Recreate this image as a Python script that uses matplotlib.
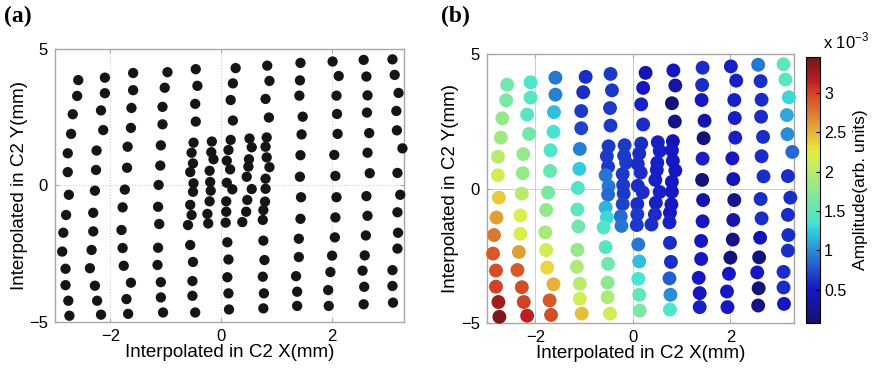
import numpy as np
import matplotlib
matplotlib.use("Agg")
import matplotlib.pyplot as plt
from matplotlib.colors import LinearSegmentedColormap

# interpolated probe positions (mm), read column by column from top to bottom
col1_x = [-2.58, -2.60, -2.68, -2.71, -2.77, -2.77, -2.75, -2.80, -2.85, -2.87, -2.81, -2.81, -2.76, -2.74]
col1_y = [3.86, 3.28, 2.61, 1.89, 1.18, 0.49, -0.34, -1.08, -1.73, -2.42, -3.05, -3.65, -4.22, -4.77]
col2_x = [-2.10, -2.10, -2.17, -2.13, -2.25, -2.26, -2.28, -2.31, -2.31, -2.34, -2.37, -2.28, -2.24, -2.17]
col2_y = [3.95, 3.38, 2.75, 2.03, 1.28, 0.57, -0.19, -1.00, -1.68, -2.36, -3.03, -3.67, -4.22, -4.73]
col3_x = [-1.59, -1.59, -1.62, -1.63, -1.69, -1.70, -1.74, -1.78, -1.80, -1.78, -1.76, -1.63, -1.71, -1.68]
col3_y = [4.12, 3.49, 2.84, 2.11, 1.42, 0.65, -0.15, -0.80, -1.63, -2.29, -2.94, -3.56, -4.16, -4.70]
col4_x = [-0.97, -1.02, -1.06, -1.06, -1.09, -1.10, -1.13, -1.14, -1.12, -1.14, -1.15, -1.09, -1.09, -1.05]
col4_y = [4.15, 3.58, 2.88, 2.24, 1.47, 0.73, 0.02, -0.78, -1.41, -2.28, -2.91, -3.54, -4.10, -4.65]
col5_x = [-0.46, -0.43, -0.47, -0.46, -0.50, -0.535, -0.51, -0.56, -0.50, -0.51, -0.56, -0.535, -0.60,
          -0.56, -0.51, -0.52, -0.52, -0.47]
col5_y = [4.26, 3.65, 2.99, 2.34, 1.57, 1.20, 0.81, 0.49, 0.08, -0.23, -0.71, -1.08, -1.45,
          -2.18, -2.80, -3.50, -4.04, -4.65]
colB_x = [-0.17, -0.18, -0.14, -0.21, -0.20, -0.19, -0.21, -0.25, -0.235]
colB_y = [1.61, 1.22, 0.96, 0.54, 0.13, -0.19, -0.58, -1.04, -1.39]
col6_x = [0.26, 0.21, 0.17, 0.21, 0.17, 0.13, 0.10, 0.16, 0.10, 0.20, 0.09, 0.09, 0.08,
          0.11, 0.13, 0.11, 0.13, 0.14]
col6_y = [4.30, 3.74, 3.13, 2.38, 1.67, 1.30, 0.91, 0.59, 0.10, -0.14, -0.58, -0.96, -1.36,
          -2.08, -2.71, -3.36, -3.95, -4.54]
colD_x = [0.51, 0.55, 0.50, 0.49, 0.46, 0.55, 0.47, 0.45, 0.38]
colD_y = [1.72, 1.40, 0.96, 0.69, 0.32, -0.13, -0.53, -0.96, -1.34]
col7_x = [0.83, 0.87, 0.80, 0.86, 0.82, 0.80, 0.82, 0.87, 0.80, 0.80, 0.79, 0.76, 0.75,
          0.76, 0.78, 0.75, 0.77, 0.76]
col7_y = [4.39, 3.83, 3.17, 2.49, 1.76, 1.42, 1.03, 0.67, 0.25, -0.12, -0.59, -0.90, -1.26,
          -2.02, -2.73, -3.34, -3.95, -4.50]
col8_x = [1.43, 1.42, 1.41, 1.47, 1.45, 1.43, 1.42, 1.44, 1.43, 1.40, 1.40, 1.35, 1.37, 1.37]
col8_y = [4.49, 3.85, 3.29, 2.52, 1.87, 1.11, 0.32, -0.43, -1.22, -1.95, -2.62, -3.32, -3.89, -4.41]
col9_x = [2.01, 2.12, 2.08, 2.09, 2.10, 2.04, 2.06, 2.08, 2.06, 2.05, 2.00, 1.97, 1.93, 1.94]
col9_y = [4.54, 4.01, 3.29, 2.62, 1.89, 1.12, 0.35, -0.43, -1.17, -1.90, -2.57, -3.17, -3.83, -4.41]
col10_x = [2.57, 2.62, 2.64, 2.63, 2.67, 2.64, 2.68, 2.62, 2.64, 2.61, 2.59, 2.55, 2.58, 2.57]
col10_y = [4.60, 3.99, 3.30, 2.67, 1.92, 1.20, 0.45, -0.39, -1.11, -1.83, -2.56, -3.12, -3.71, -4.35]
col11_x = [3.09, 3.13, 3.20, 3.16, 3.17, 3.27, 3.18, 3.23, 3.18, 3.19, 3.18, 3.09, 3.09, 3.10]
col11_y = [4.62, 4.05, 3.39, 2.73, 2.02, 1.36, 0.46, -0.34, -0.98, -1.73, -2.31, -3.10, -3.68, -4.29]

# amplitude (x 1e-3, arb. units) for the same points
col1_a = [1.6, 1.65, 1.8, 1.85, 2.0, 2.15, 2.4, 2.6, 2.75, 2.9, 2.95, 3.0, 3.25, 3.4]
col2_a = [1.4, 1.45, 1.45, 1.6, 1.8, 1.8, 2.0, 2.2, 2.2, 2.6, 2.9, 2.95, 3.0, 3.15]
col3_a = [0.9, 0.95, 1.2, 1.35, 1.4, 1.55, 1.65, 1.8, 1.9, 2.15, 2.35, 2.5, 2.9, 2.95]
col4_a = [0.6, 0.6, 0.65, 0.7, 0.95, 1.25, 1.4, 1.5, 1.6, 1.8, 1.95, 2.0, 2.15, 2.45]
col5_a = [0.65, 0.65, 0.65, 0.65, 0.65, 0.65, 0.65, 0.9, 0.9, 0.85, 1.15, 1.3, 1.4,
          1.45, 1.6, 1.75, 1.95, 2.15]
colB_a = [0.65, 0.65, 0.65, 0.65, 0.65, 0.65, 0.7, 0.85, 0.9]
col6_a = [0.4, 0.5, 0.55, 0.6, 0.6, 0.6, 0.6, 0.6, 0.6, 0.6, 0.6, 0.65, 0.65,
          0.9, 1.2, 1.35, 1.5, 1.65]
colD_a = [0.55, 0.55, 0.55, 0.55, 0.55, 0.55, 0.55, 0.6, 0.6]
col7_a = [0.5, 0.35, 0.15, 0.2, 0.4, 0.45, 0.45, 0.5, 0.5, 0.5, 0.5, 0.5, 0.55,
          0.6, 0.6, 0.8, 1.0, 1.4]
col8_a = [0.6, 0.6, 0.5, 0.35, 0.15, 0.55, 0.15, 0.35, 0.5, 0.5, 0.5, 0.5, 0.5, 0.55]
col9_a = [0.55, 0.55, 0.55, 0.55, 0.55, 0.45, 0.4, 0.25, 0.35, 0.2, 0.15, 0.45, 0.5, 0.5]
col10_a = [0.9, 0.6, 0.6, 0.6, 0.6, 0.6, 0.6, 0.6, 0.6, 0.4, 0.15, 0.5, 0.15, 0.2]
col11_a = [1.5, 1.45, 1.3, 1.1, 1.0, 0.85, 0.6, 0.6, 0.6, 0.6, 0.6, 0.6, 0.6, 0.45]

cbar_ticks = [0.5, 1, 1.5, 2, 2.5, 3]

xs = np.concatenate([col1_x, col2_x, col3_x, col4_x, col5_x, colB_x, col6_x, colD_x,
                     col7_x, col8_x, col9_x, col10_x, col11_x])
ys = np.concatenate([col1_y, col2_y, col3_y, col4_y, col5_y, colB_y, col6_y, colD_y,
                     col7_y, col8_y, col9_y, col10_y, col11_y])
amp = np.concatenate([col1_a, col2_a, col3_a, col4_a, col5_a, colB_a, col6_a, colD_a,
                      col7_a, col8_a, col9_a, col10_a, col11_a])

plt.rcParams['font.family'] = ['Liberation Sans', 'DejaVu Sans']

# jet, desaturated a bit like the printed figure
jet = plt.get_cmap('jet')
cols = jet(np.linspace(0, 1, 256))[:, :3]
lum = (cols @ np.array([0.299, 0.587, 0.114]))[:, None]
cols = (lum + (cols - lum) * 0.75) * 0.9 + 0.06
cmap = LinearSegmentedColormap.from_list('wjet', np.clip(cols, 0, 1))

fig = plt.figure(figsize=(8.76, 3.71), dpi=100)
ax1 = fig.add_axes([0.0628, 0.132, 0.3985, 0.736])
ax2 = fig.add_axes([0.5556, 0.1294, 0.3505, 0.725])
cax = fig.add_axes([0.9198, 0.1294, 0.0163, 0.718])

frame = '#a8a8a8'
for ax in (ax1, ax2):
    ax.set_xlim(-3.0, 3.3)
    ax.set_ylim(-5, 5)
    ax.set_xticks([-2, 0, 2])
    ax.set_yticks([-5, 0, 5])
    ax.set_xticklabels(['\u22122', '0', '2'])
    ax.set_yticklabels(['\u22125', '0', '5'])
    ax.tick_params(direction='in', length=3, color=frame, labelsize=12, pad=5,
                   top=True, right=True)
    for s in ax.spines.values():
        s.set_color(frame)
        s.set_linewidth(1.0)
    ax.set_xlabel('Interpolated in C2 X(mm)', fontsize=13.5, labelpad=0)
    ax.set_ylabel('Interpolated in C2 Y(mm)', fontsize=13.5, labelpad=1)

ax1.grid(True, linestyle=':', color='#d0d0d0', linewidth=0.8)
ax2.grid(True, linestyle='-', color='#cfcfcf', linewidth=0.7)
ax1.set_axisbelow(True)
ax2.set_axisbelow(True)

ax1.scatter(xs, ys, s=55, c='#151515', edgecolors='none', clip_on=False, zorder=3)
sc = ax2.scatter(xs, ys, s=100, c=amp, cmap=cmap, vmin=0.08, vmax=3.46,
                 edgecolors='none', clip_on=False, zorder=3)

cb = fig.colorbar(sc, cax=cax, ticks=cbar_ticks)
cb.ax.set_yticklabels(['0.5', '1', '1.5', '2', '2.5', '3'])
cb.ax.tick_params(labelsize=11.5, length=3, direction='in', pad=3)
cb.outline.set_linewidth(0.8)
cb.set_label('Amplitude(arb. units)', fontsize=12.5, labelpad=5)
fig.text(0.94, 0.862, r'x 10$^{\mathregular{-3}}$', fontsize=12, ha='left', va='bottom')

fig.text(0.005, 0.985, '(a)', fontsize=17, fontweight='bold', family='Liberation Serif',
         ha='left', va='top')
fig.text(0.503, 0.985, '(b)', fontsize=17, fontweight='bold', family='Liberation Serif',
         ha='left', va='top')

fig.savefig('out.png', dpi=100)
